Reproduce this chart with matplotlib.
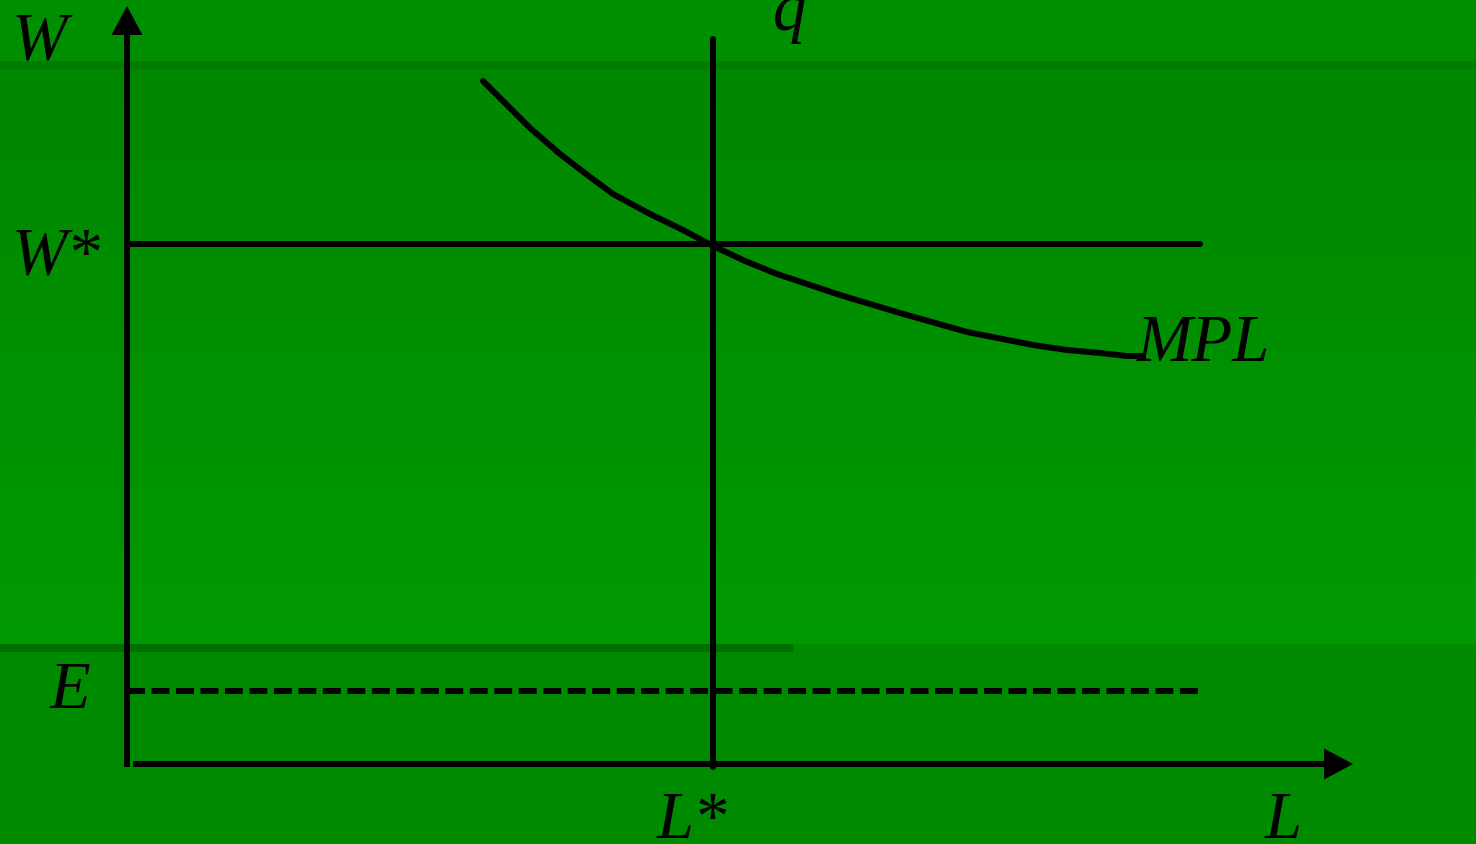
import numpy as np
import matplotlib
matplotlib.use("Agg")
import matplotlib.pyplot as plt
from matplotlib.colors import LinearSegmentedColormap

# diagram drawn in a pixel-like coordinate frame (y grows downward)
mpl_x = [483, 510, 530, 560, 590, 613, 650, 683, 713, 745, 777, 840, 900, 967, 1033, 1067, 1100, 1127, 1143]
mpl_y = [82, 109, 129, 155, 178, 195, 215, 231, 247, 262, 275, 296, 314, 333, 346, 351, 354, 357, 357]
origin = (127, 765)
l_star = 713
w_star = 245
e_level = 692
line_end = 1200

labels = ["W", "W*", "E", "L*", "L", "q", "MPL"]
label_pos = [(12, 58), (12, 274), (50, 708), (657, 838), (1265, 838), (773, 30), (1137, 361)]

fig = plt.figure(figsize=(14.76, 8.45), dpi=100)
ax = fig.add_axes([0, 0, 1, 1])
ax.set_xlim(0, 1476)
ax.set_ylim(845, 0)
ax.axis("off")

# background bands
ax.axhspan(0, 62, color="#008f00", lw=0)
ax.axhspan(62, 70, color="#007d00", lw=0)
cmap = LinearSegmentedColormap.from_list("g", ["#008700", "#009900"])
grad = np.linspace(0, 1, 256).reshape(-1, 1)
ax.imshow(grad, cmap=cmap, extent=[0, 1476, 645, 70], aspect="auto", zorder=0)
ax.axhspan(645, 845, color="#008a00", lw=0)
ax.fill_between([0, 793], 645, 653, color="#006e00", lw=0)

lw = 4.3
# axes with arrow heads
ax.plot([origin[0], origin[0]], [origin[1] + 3, 34], color="black", lw=lw, solid_capstyle="butt")
ax.fill([origin[0] - 15.5, origin[0] + 15.5, origin[0]], [36, 36, 7], color="black", lw=0)
ax.plot([origin[0] + 6, 1326], [origin[1], origin[1]], color="black", lw=lw, solid_capstyle="butt")
ax.fill([1324, 1324, 1353], [origin[1] - 15.5, origin[1] + 15.5, origin[1]], color="black", lw=0)

ax.plot([l_star, l_star], [40, origin[1] + 3], color="black", lw=lw, solid_capstyle="round")
ax.plot([origin[0], line_end], [w_star, w_star], color="black", lw=lw, solid_capstyle="round")
ax.plot([origin[0], line_end], [e_level, e_level], color="black", lw=lw,
        dashes=(3.0, 1.1), dash_capstyle="butt")
ax.plot(mpl_x, mpl_y, color="black", lw=lw, solid_capstyle="round", solid_joinstyle="round")

for t, (x, y) in zip(labels, label_pos):
    ax.text(x, y, t, fontsize=48, family="Liberation Serif", style="italic",
            color="black", ha="left", va="baseline")

fig.savefig("out.png", dpi=100)
